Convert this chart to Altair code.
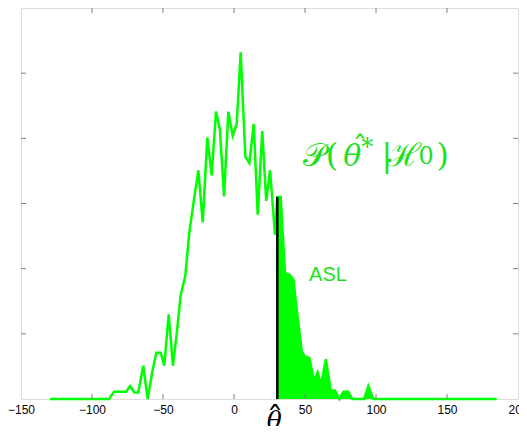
import altair as alt
import pandas as pd

# curve
theta = [-129.6, -88.0, -84.5, -76.0, -73.2, -70.2, -67.4, -63.9, -60.8, -57.7,
         -54.7, -51.6, -49.1, -46.0, -43.0, -40.3, -37.5, -34.3, -31.5, -28.2,
         -25.1, -22.0, -18.8, -15.7, -12.7, -9.9, -7.0, -4.0, -0.9, 1.9,
         4.7, 8.0, 10.8, 13.9, 16.7, 19.9, 22.7, 25.4, 28.9, 30.5,
         32.9, 35.9, 39.0, 41.8, 44.2, 47.7, 50.0, 53.1, 56.3, 58.9,
         61.3, 64.7, 68.1, 71.1, 74.2, 77.0, 80.5, 83.3, 91.7, 94.6,
         98.1, 185.0]
density = [0.0, 0.0, 0.11, 0.11, 0.2, 0.1, 0.1, 0.51, 0.0, 0.4,
           0.71, 0.71, 0.51, 1.30, 0.51, 1.01, 1.6, 1.89, 2.55, 3.06,
           3.51, 2.71, 4.01, 3.43, 4.41, 4.13, 3.11, 4.41, 4.04, 4.22,
           5.32, 3.72, 3.62, 4.22, 2.83, 4.11, 3.04, 3.51, 2.52, 3.1,
           3.1, 1.93, 1.91, 1.83, 1.37, 0.73, 0.65, 0.63, 0.28, 0.41,
           0.22, 0.61, 0.13, 0.13, 0.0, 0.11, 0.11, 0.0, 0.0, 0.2,
           0.0, 0.0]
theta_obs = 30.5
obs_height = 3.1
x_ticks = [-100, -50, 0, 50, 100, 150]
y_ticks = [1, 2, 3, 4, 5]

# pieces of the label P(theta-hat* | H0): text, x, y, size, style
lab_text = ["𝒫", "(", "θ", "ˆ", "*", "|", "ℋ", "0", ")"]
lab_x = [48.6, 64.6, 77.0, 83.4, 89.6, 103.8, 108.0, 130.0, 142.6]
lab_y = [3.57, 3.57, 3.57, 3.72, 3.74, 3.57, 3.57, 3.60, 3.57]
lab_size = [32, 32, 30, 30, 24, 32, 32, 24, 32]
lab_style = ["normal", "normal", "italic", "normal", "normal", "normal", "normal", "normal", "normal"]

W, H = 497, 391
GREEN = "#00ff00"
TXT = "#1fe01f"
GRAY = "#7f7f7f"

df = pd.DataFrame({"theta": theta, "p": density})
tail = df[df.theta >= theta_obs]

xs = alt.Scale(domain=[-150, 200], nice=False, zero=False)
ys = alt.Scale(domain=[0, 6], nice=False)

xaxis = alt.Axis(values=[-150, -100, -50, 0, 50, 100, 150, 200], tickSize=0,
                 domain=False, grid=False, labelFont="Liberation Sans",
                 labelFontSize=12, labelColor="black", labelPadding=5,
                 title=None, labelFlush=False)

area = alt.Chart(tail).mark_area(color=GREEN, opacity=1, interpolate="linear").encode(
    x=alt.X("theta:Q", scale=xs, axis=xaxis),
    y=alt.Y("p:Q", scale=ys, axis=None),
)
line = alt.Chart(df).mark_line(color=GREEN, strokeWidth=2.5, clip=False).encode(
    x=alt.X("theta:Q", scale=xs),
    y=alt.Y("p:Q", scale=ys),
)
obs = alt.Chart(pd.DataFrame({"theta": [theta_obs], "p0": [0.0], "p1": [obs_height]})).mark_rule(
    color="black", strokeWidth=2.5).encode(
    x=alt.X("theta:Q", scale=xs),
    y=alt.Y("p0:Q", scale=ys),
    y2="p1:Q",
)

xt = pd.DataFrame({"v": x_ticks})
yt = pd.DataFrame({"v": y_ticks})
tick_bot = alt.Chart(xt).mark_rule(color=GRAY, strokeWidth=1).encode(
    x=alt.X("v:Q", scale=xs), y=alt.value(H), y2=alt.value(H - 5))
tick_top = alt.Chart(xt).mark_rule(color=GRAY, strokeWidth=1).encode(
    x=alt.X("v:Q", scale=xs), y=alt.value(0), y2=alt.value(5))
tick_l = alt.Chart(yt).mark_rule(color=GRAY, strokeWidth=1).encode(
    y=alt.Y("v:Q", scale=ys), x=alt.value(0), x2=alt.value(5))
tick_r = alt.Chart(yt).mark_rule(color=GRAY, strokeWidth=1).encode(
    y=alt.Y("v:Q", scale=ys), x=alt.value(W - 5), x2=alt.value(W))

lab = pd.DataFrame({"t": lab_text, "x": lab_x, "y": lab_y,
                    "s": lab_size, "st": lab_style})
ptxt_n = alt.Chart(lab[lab.st == "normal"]).mark_text(
    align="left", baseline="alphabetic", font="DejaVu Serif", color=TXT).encode(
    x=alt.X("x:Q", scale=xs), y=alt.Y("y:Q", scale=ys), text="t:N",
    size=alt.Size("s:Q", scale=None, legend=None))
ptxt_i = alt.Chart(lab[lab.st == "italic"]).mark_text(
    align="left", baseline="alphabetic", font="DejaVu Serif", fontStyle="italic",
    color=TXT).encode(
    x=alt.X("x:Q", scale=xs), y=alt.Y("y:Q", scale=ys), text="t:N",
    size=alt.Size("s:Q", scale=None, legend=None))

asl = alt.Chart(pd.DataFrame({"x": [66.2], "y": [1.9], "t": ["ASL"]})).mark_text(
    align="center", baseline="middle", fontSize=20, font="Liberation Sans",
    color=TXT).encode(
    x=alt.X("x:Q", scale=xs), y=alt.Y("y:Q", scale=ys), text="t:N")

ttl = alt.Chart(pd.DataFrame({"x": [28.3], "t": ["θ"]})).mark_text(
    align="center", baseline="alphabetic", fontSize=25, font="DejaVu Serif",
    fontStyle="italic", color="black").encode(
    x=alt.X("x:Q", scale=xs), y=alt.value(H + 30), text="t:N")
hat = alt.Chart(pd.DataFrame({"x": [28.8], "t": ["ˆ"]})).mark_text(
    align="center", baseline="alphabetic", fontSize=34, font="DejaVu Serif",
    color="black").encode(
    x=alt.X("x:Q", scale=xs), y=alt.value(H + 32), text="t:N")

chart = alt.layer(area, line, obs, tick_bot, tick_top, tick_l, tick_r,
                  ptxt_n, ptxt_i, asl, ttl, hat).properties(
    width=W, height=H,
    autosize=alt.AutoSizeParams(type="none"),
    padding={"left": 13, "top": 0, "right": 1, "bottom": 27},
).configure_view(stroke=GRAY, strokeWidth=1).configure(background="white")

chart.save("out.html", embed_options={"renderer": "svg", "actions": False})
